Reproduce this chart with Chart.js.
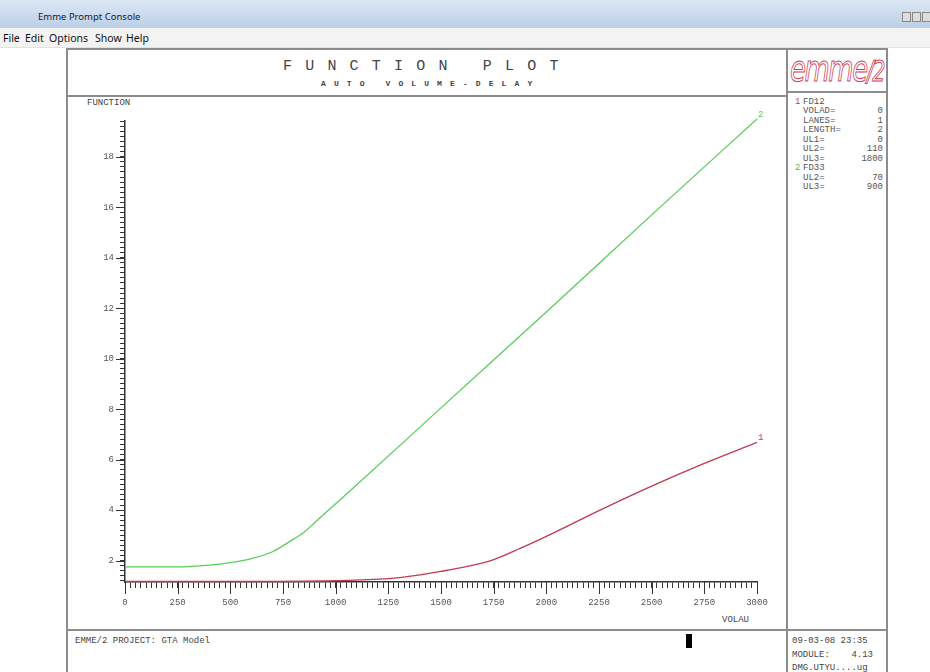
<!DOCTYPE html>
<html>
<head>
<meta charset="utf-8">
<script src="https://cdn.jsdelivr.net/npm/chart.js@4.4.1/dist/chart.umd.min.js"></script>
<style>
  html, body { margin: 0; padding: 0; width: 930px; height: 672px; overflow: hidden; background: #fff; font-family: "Liberation Mono", monospace; }
  .abs { position: absolute; }
  #titlebar { left: 0; top: 0; width: 930px; height: 28px; background: linear-gradient(#dce7f5, #bccfe7); }
  #titlebar span { position: absolute; left: 38px; top: 10px; font: 9.5px "Noto Sans", sans-serif; color: #1a1a1a; }
  #menubar { left: 0; top: 28px; width: 930px; height: 19px; background: #f3f3f3; border-bottom: 1px solid #e2e2e2; }
  #menubar span { position: absolute; top: 3px; font: 10.5px "Noto Sans", sans-serif; color: #111; }
  .btn { top: 12px; width: 7px; height: 8px; border: 1px solid #888; background: #ddd; }
  .line { background: #8c8c8c; }
  .mono { font-family: "Liberation Mono", monospace; color: #555; white-space: pre; }
  #plotWrap { left: 68px; top: 97px; width: 718px; height: 532px; }
  #legend { left: 795px; top: 98px; width: 88px; font: 9px/9.45px "Liberation Mono", monospace; color: #555; }
  #legend div { height: 9.45px; padding-left: 8px; position: relative; }
  #legend b { font-weight: normal; position: absolute; left: 0; }
  #legend i { font-style: normal; position: absolute; right: 0; }
</style>
</head>
<body>
<div id="titlebar" class="abs"><span>Emme Prompt Console</span></div>
<div class="abs btn" style="left:902px"></div>
<div class="abs btn" style="left:912px"></div>
<div class="abs btn" style="left:922px"></div>
<div id="menubar" class="abs">
  <span style="left:3px">File</span><span style="left:25px">Edit</span><span style="left:49px">Options</span>
  <span style="left:95px">Show</span><span style="left:126px">Help</span>
</div>

<!-- frame -->
<div class="abs line" style="left:66px; top:48px; width:822px; height:2px"></div>
<div class="abs line" style="left:66px; top:48px; width:2px; height:624px"></div>
<div class="abs line" style="left:886px; top:48px; width:2px; height:624px"></div>
<div class="abs line" style="left:786px; top:48px; width:2px; height:624px"></div>
<div class="abs line" style="left:66px; top:95px; width:720px; height:2px"></div>
<div class="abs line" style="left:786px; top:91px; width:100px; height:2px"></div>
<div class="abs line" style="left:66px; top:629px; width:822px; height:2px"></div>

<!-- title -->
<div class="abs mono" style="left:283px; top:58px; font-size:15px; letter-spacing:13.2px; color:#444">FUNCTION PLOT</div>
<div class="abs mono" style="left:321px; top:79px; font-size:8px; letter-spacing:8.1px; color:#444; font-weight:bold">AUTO VOLUME-DELAY</div>

<!-- emme/2 logo -->
<div class="abs" style="left:790px; top:48px; font: italic 36px 'DejaVu Sans', sans-serif; color: transparent; -webkit-text-stroke: 1px #d23c55; letter-spacing:-2px; transform: scaleX(0.72); transform-origin: left top; white-space: nowrap">emme<span style="font-size:29px">/2</span></div>

<!-- legend panel -->
<div id="legend" class="abs">
<div><b style="color:#d23c55">1</b>FD12</div>
<div>VOLAD=<i>0</i></div>
<div>LANES=<i>1</i></div>
<div>LENGTH=<i>2</i></div>
<div>UL1=<i>0</i></div>
<div>UL2=<i>110</i></div>
<div>UL3=<i>1800</i></div>
<div><b style="color:#4cc04c">2</b>FD33</div>
<div>UL2=<i>70</i></div>
<div>UL3=<i>900</i></div>
</div>

<!-- axis captions -->
<div class="abs mono" style="left:87px; top:98px; font-size:9px; color:#444">FUNCTION</div>
<div class="abs mono" style="left:722px; top:615px; font-size:9px; color:#444">VOLAU</div>

<!-- footer -->
<div class="abs mono" style="left:75px; top:636px; font-size:9px; color:#444">EMME/2 PROJECT: GTA Model</div>
<div class="abs" style="left:686px; top:634px; width:6px; height:14px; background:#000"></div>
<div class="abs mono" style="left:792px; top:635px; font-size:9px; line-height:13.5px; color:#444">09-03-08 23:35
MODULE:    4.13
DMG.UTYU....ug</div>

<div id="plotWrap" class="abs"><canvas id="plot" width="718" height="532"></canvas></div>

<script>
// ---- data ----
const volauFD33 = [0, 250, 400, 500, 600, 700, 800, 850, 900, 1000, 1100, 1500, 2000, 2500, 3000];
const fd33      = [1.75, 1.75, 1.82, 1.92, 2.08, 2.35, 2.85, 3.12, 3.5, 4.25, 5.0, 8.05, 11.85, 15.7, 19.5];

const volauFD12 = [0, 500, 1000, 1250, 1375, 1500, 1625, 1750, 1875, 2000, 2250, 2500, 2750, 3000];
const fd12      = [1.17, 1.17, 1.20, 1.28, 1.40, 1.57, 1.77, 2.04, 2.48, 2.96, 3.98, 4.95, 5.85, 6.68];

const xTickLabels = ['0', '250', '500', '750', '1000', '1250', '1500', '1750', '2000', '2250', '2500', '2750', '3000'];
const yTickLabels = ['2', '4', '6', '8', '10', '12', '14', '16', '18'];

const X_MIN = 0, X_MAX = 3000, Y_MIN = 1.15, Y_MAX = 19.42;

// minor ticks: every 25 on x, every 0.2 on y
const xMinor = [];
for (let v = X_MIN; v <= X_MAX; v += 25) xMinor.push(v);
const yMinor = [];
for (let i = 6; i <= 97; i++) yMinor.push(i / 5);

const tickFont = { family: 'Liberation Mono', size: 9 };

// longer major ticks + curve number at the end of each line
const extraTicks = {
  id: 'extraTicks',
  afterDraw(chart) {
    const { ctx } = chart;
    const x = chart.scales.x, y = chart.scales.y;
    ctx.save();
    ctx.strokeStyle = '#333';
    ctx.lineWidth = 1;
    xTickLabels.forEach(t => {
      const px = Math.round(x.getPixelForValue(Number(t))) + 0.5;
      ctx.beginPath();
      ctx.moveTo(px, y.bottom);
      ctx.lineTo(px, y.bottom + 12);
      ctx.stroke();
    });
    yTickLabels.forEach(t => {
      const py = Math.round(y.getPixelForValue(Number(t))) + 0.5;
      ctx.beginPath();
      ctx.moveTo(x.left - 9, py);
      ctx.lineTo(x.left, py);
      ctx.stroke();
    });
    ctx.font = '9px Liberation Mono';
    chart.data.datasets.forEach((ds, i) => {
      const meta = chart.getDatasetMeta(i);
      const pt = meta.data[meta.data.length - 1];
      ctx.fillStyle = ds.borderColor;
      ctx.fillText(ds.label, pt.x + 1, pt.y - 2);
    });
    ctx.restore();
  },
};

new Chart(document.getElementById('plot').getContext('2d'), {
  type: 'line',
  data: {
    datasets: [
      {
        label: '2',
        data: volauFD33.map((v, i) => ({ x: v, y: fd33[i] })),
        borderColor: '#5ccc5c',
        borderWidth: 1.3,
        pointRadius: 0,
        cubicInterpolationMode: 'monotone',
        clip: false,
      },
      {
        label: '1',
        data: volauFD12.map((v, i) => ({ x: v, y: fd12[i] })),
        borderColor: '#c23a52',
        borderWidth: 1.3,
        pointRadius: 0,
        cubicInterpolationMode: 'monotone',
        clip: false,
      },
    ],
  },
  options: {
    responsive: false,
    animation: false,
    layout: { padding: { top: 24, right: 29, left: 0, bottom: 0 } },
    plugins: { legend: { display: false }, tooltip: { enabled: false } },
    scales: {
      x: {
        type: 'linear',
        min: X_MIN,
        max: X_MAX,
        afterBuildTicks: s => { s.ticks = xMinor.map(v => ({ value: v })); },
        afterFit: s => { s.height = 47; },
        ticks: {
          autoSkip: false,
          maxRotation: 0,
          padding: 9,
          color: '#555',
          font: tickFont,
          callback: v => (xTickLabels.includes(String(v)) ? String(v) : ''),
        },
        grid: { drawOnChartArea: false, drawTicks: true, tickLength: 6, tickColor: '#333' },
        border: { display: true, color: '#333', width: 1.5 },
      },
      y: {
        type: 'linear',
        min: Y_MIN,
        max: Y_MAX,
        afterBuildTicks: s => { s.ticks = yMinor.map(v => ({ value: v })); },
        afterFit: s => { s.width = 57; },
        ticks: {
          autoSkip: false,
          padding: 6,
          color: '#555',
          font: tickFont,
          callback: v => (yTickLabels.includes(String(v)) ? String(v) : ''),
        },
        grid: { drawOnChartArea: false, drawTicks: true, tickLength: 5, tickColor: '#333' },
        border: { display: true, color: '#333', width: 1.5 },
      },
    },
  },
  plugins: [extraTicks],
});
</script>
</body>
</html>
